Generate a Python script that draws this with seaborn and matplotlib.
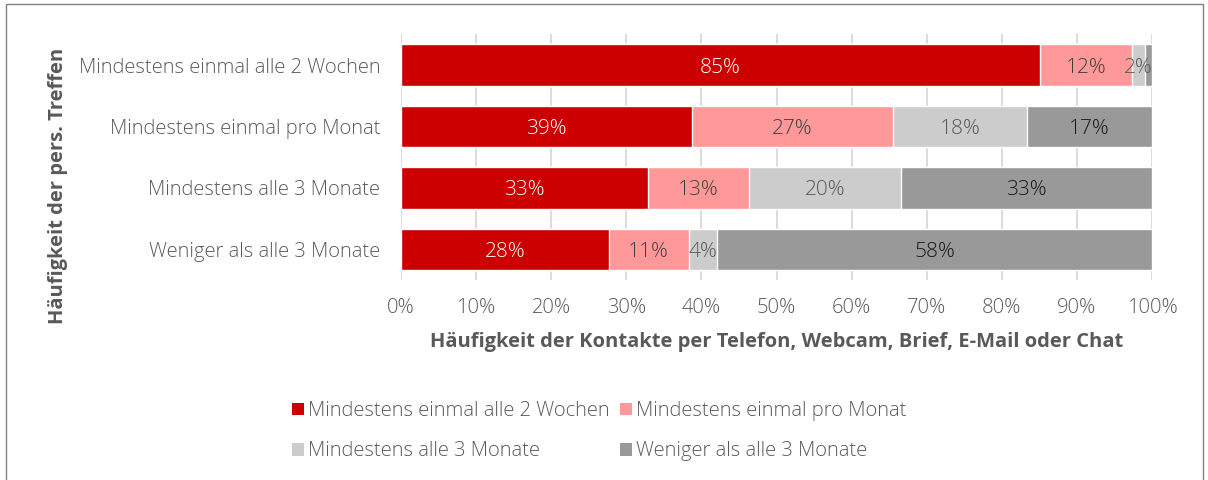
import pandas as pd
import seaborn as sns
import matplotlib.pyplot as plt
from matplotlib.patches import Rectangle, Patch

# Data (percent shares per row)
categories = [
    "Mindestens einmal alle 2 Wochen",
    "Mindestens einmal pro Monat",
    "Mindestens alle 3 Monate",
    "Weniger als alle 3 Monate",
]
series_names = [
    "Mindestens einmal alle 2 Wochen",
    "Mindestens einmal pro Monat",
    "Mindestens alle 3 Monate",
    "Weniger als alle 3 Monate",
]
s_2wochen = [85.1, 38.7, 32.9, 27.7]
s_monat = [12.2, 26.8, 13.4, 10.6]
s_3monate = [1.8, 17.9, 20.3, 3.8]
s_weniger = [0.9, 16.6, 33.4, 57.9]
xticks = [0, 10, 20, 30, 40, 50, 60, 70, 80, 90, 100]

colors = ["#CC0000", "#FF9999", "#CCCCCC", "#999999"]
label_colors = ["white", "#404040", "#595959", "#1a1a1a"]
TEXT = "#595959"
FS = 14.5

sns.set_style("white")
plt.rcParams["font.family"] = ["Open Sans", "DejaVu Sans"]

series = [s_2wochen, s_monat, s_3monate, s_weniger]
df = pd.DataFrame({"kategorie": categories})
for name, vals in zip(series_names, series):
    df[name] = vals
cum = df[series_names].cumsum(axis=1)

fig = plt.figure(figsize=(12.08, 4.8), dpi=100)
ax = fig.add_axes([0.332, 0.4167, 0.6216, 0.5118])

# stacked bars: draw cumulative widths from the back to the front
for i in range(len(series_names) - 1, -1, -1):
    sns.barplot(x=cum[series_names[i]], y=df["kategorie"], orient="h",
                color=colors[i], width=0.674, saturation=1, ax=ax, zorder=2)

# data labels
for r in range(len(categories)):
    for i, name in enumerate(series_names):
        v = df.loc[r, name]
        if v < 1.5:
            continue
        center = cum.loc[r, name] - v / 2
        ax.text(center, r, f"{v:.0f}%", ha="center", va="center_baseline",
                color=label_colors[i], fontsize=15, fontweight="light", zorder=3)

ax.set_xlim(0, 100)
ax.set_xticks(xticks)
ax.set_xticklabels([f"{t}%" for t in xticks])
ax.grid(axis="x", color="#D9D9D9", linewidth=1.3, zorder=0)
ax.set_axisbelow(True)
for sp in ax.spines.values():
    sp.set_visible(False)
ax.tick_params(axis="x", length=0, pad=13, labelsize=FS, labelcolor=TEXT)
ax.tick_params(axis="y", length=0, pad=15, labelsize=FS, labelcolor=TEXT)
for lbl in ax.get_xticklabels() + ax.get_yticklabels():
    lbl.set_fontweight("light")

ax.set_xlabel("Häufigkeit der Kontakte per Telefon, Webcam, Brief, E-Mail oder Chat",
              fontsize=FS, fontweight="bold", color=TEXT)
ax.xaxis.set_label_coords(0.5, -0.21)
ax.set_ylabel("Häufigkeit der pers. Treffen", fontsize=FS, fontweight="bold", color=TEXT)
ax.yaxis.set_label_coords(-0.444, 0.383)

# legend filled row by row (matplotlib fills columns first)
handles = [Patch(facecolor=c, edgecolor="none") for c in colors]
order = [0, 2, 1, 3]
leg = fig.legend([handles[k] for k in order], [series_names[k] for k in order],
                 loc="upper left", ncol=2,
                 bbox_to_anchor=(282 / 1208, 1 - 391 / 480), frameon=False,
                 fontsize=FS, handlelength=0.6, handleheight=0.6, handletextpad=0.2,
                 columnspacing=0.5, labelspacing=1.0, borderpad=0)
for t in leg.get_texts():
    t.set_color(TEXT)
    t.set_fontweight("light")

# outer frame of the chart area
fig.patches.append(Rectangle((6 / 1208, -0.02), 1197 / 1208, 1.0 - 4 / 480 + 0.02,
                             transform=fig.transFigure, fill=False,
                             edgecolor="#808080", linewidth=1.0))

fig.savefig("out.png", dpi=100)
